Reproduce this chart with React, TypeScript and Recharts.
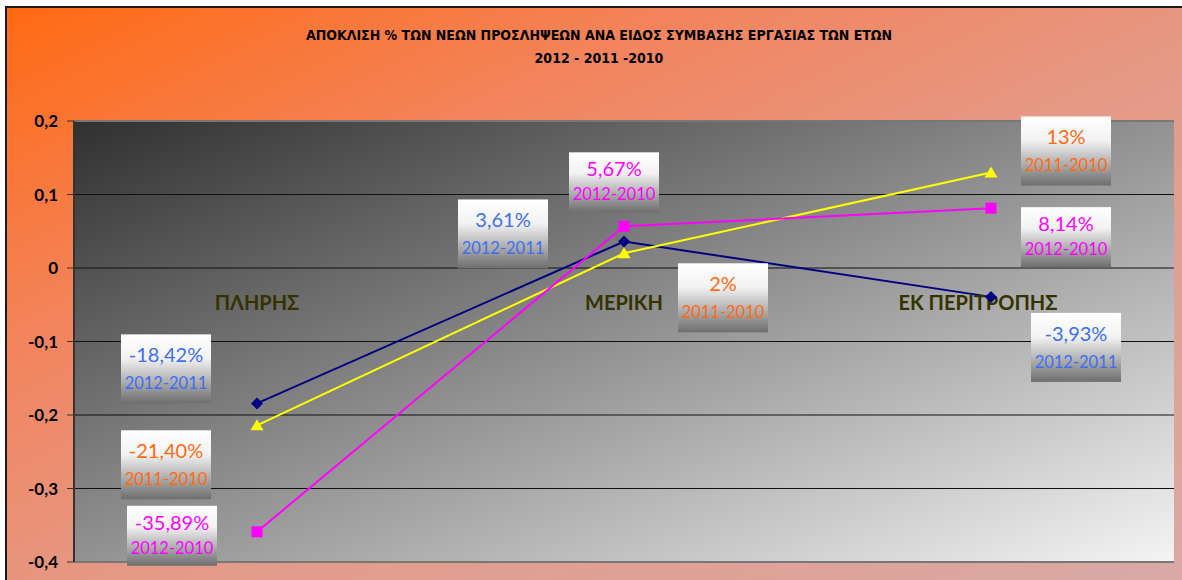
import React from 'react';
import { LineChart, Line, XAxis, YAxis, CartesianGrid, LabelList, ReferenceDot, ReferenceLine } from 'recharts';

const categories = ['ΠΛΗΡΗΣ', 'ΜΕΡΙΚΗ', 'ΕΚ ΠΕΡΙΤΡΟΠΗΣ'];
const series2012_2011 = [-0.1842, 0.0361, -0.0393];
const series2011_2010 = [-0.214, 0.02, 0.13];
const series2012_2010 = [-0.3589, 0.0567, 0.0814];
const labels2012_2011 = ['-18,42%', '3,61%', '-3,93%'];
const labels2011_2010 = ['-21,40%', '2%', '13%'];
const labels2012_2010 = ['-35,89%', '5,67%', '8,14%'];
const yTicks = [0.2, 0.1, 0, -0.1, -0.2, -0.3, -0.4];

const data = categories.map((name, i) => ({
  name,
  a: series2012_2011[i],
  b: series2011_2010[i],
  c: series2012_2010[i],
  aLabel: labels2012_2011[i],
  bLabel: labels2011_2010[i],
  cLabel: labels2012_2010[i],
}));

const FONT = 'Lato, "Open Sans", sans-serif';

// where each data-label box sits relative to its point (excel layout)
const boxOffsets: Record<string, number[][]> = {
  a: [[-136, -69], [-166, -42], [40, 16]],
  b: [[-136, 5], [54, 10], [30, -56]],
  c: [[-130, -26], [-55, -74], [30, -1]],
};
const boxHeights: Record<string, number> = { a: 69, b: 69, c: 60 };
const catDx = [0, 0, -13];

const makeLabel = (key: string, name: string, color: string) => (props: any) => {
  const px = props.viewBox?.x ?? props.x;
  const py = props.viewBox?.y ?? props.y;
  const [dx, dy] = boxOffsets[key][props.index];
  const h = boxHeights[key];
  const bx = px + dx;
  const by = py + dy;
  const tall = h > 65;
  return (
    <g>
      <rect x={bx} y={by} width={90} height={h} fill="url(#boxGrad)" />
      <text x={bx + 45} y={by + (tall ? 28 : 24)} textAnchor="middle" fill={color} fontSize={20} fontFamily={FONT}>
        {props.value}
      </text>
      <text x={bx + 45} y={by + (tall ? 55 : 48)} textAnchor="middle" fill={color} fontSize={16.5} fontFamily={FONT}>
        {name}
      </text>
    </g>
  );
};

const Diamond = (p: any) => (
  <polygon
    points={`${p.cx},${p.cy - 6} ${p.cx + 6},${p.cy} ${p.cx},${p.cy + 6} ${p.cx - 6},${p.cy}`}
    fill="#000080"
  />
);
const Triangle = (p: any) => (
  <polygon
    points={`${p.cx},${p.cy - 6} ${p.cx + 6.5},${p.cy + 5} ${p.cx - 6.5},${p.cy + 5}`}
    fill="#ffff00"
  />
);
const Square = (p: any) => <rect x={p.cx - 5.5} y={p.cy - 5.5} width={11} height={11} fill="#ff00ff" />;

const App: React.FC = () => {
  return (
    <div
      style={{
        position: 'absolute',
        left: 5,
        top: 6,
        width: 1190,
        height: 590,
        border: '2px solid #1a1a1a',
        boxSizing: 'border-box',
        background: 'linear-gradient(to bottom right, #ff6a13 0%, #f2855f 30%, #e49a88 55%, #d8aaa6 100%)',
        overflow: 'hidden',
      }}
    >
      <svg width={0} height={0} style={{ position: 'absolute' }}>
        <defs>
          <linearGradient id="plotGrad" x1="0" y1="0" x2="1" y2="1">
            <stop offset="0%" stopColor="#303030" />
            <stop offset="100%" stopColor="#f4f4f4" />
          </linearGradient>
          <linearGradient id="boxGrad" x1="0" y1="0" x2="0" y2="1">
            <stop offset="0%" stopColor="#ffffff" />
            <stop offset="35%" stopColor="#f2f2f2" />
            <stop offset="100%" stopColor="#6e6e6e" />
          </linearGradient>
        </defs>
      </svg>
      <div
        style={{
          position: 'absolute',
          left: 0,
          width: 1184,
          top: 16,
          textAlign: 'center',
          fontFamily: '"Liberation Sans Narrow", "DejaVu Sans Condensed", sans-serif',
          fontWeight: 'bold',
          fontSize: 14,
          lineHeight: '23px',
          color: '#000',
        }}
      >
        <div>ΑΠΟΚΛΙΣΗ % ΤΩΝ ΝΕΩΝ ΠΡΟΣΛΗΨΕΩΝ ΑΝΑ ΕΙΔΟΣ ΣΥΜΒΑΣΗΣ ΕΡΓΑΣΙΑΣ ΤΩΝ ΕΤΩΝ</div>
        <div>2012 - 2011 -2010</div>
      </div>
      <div style={{ position: 'absolute', left: -7, top: -8 }}>
        <LineChart width={1182} height={580} data={data} margin={{ top: 121, right: 8, bottom: 18, left: 8 }}>
          <CartesianGrid vertical={false} stroke="#111" fill="url(#plotGrad)" fillOpacity={1} />
          <XAxis dataKey="name" hide padding={{ left: 183, right: 183 }} />
          <YAxis
            domain={[-0.4, 0.2]}
            ticks={yTicks}
            width={66}
            tickSize={7}
            tickMargin={9}
            interval={0}
            tickFormatter={(v: number) => String(v).replace('.', ',')}
            tick={{ fill: '#000', fontSize: 17, fontWeight: 'bold', fontFamily: FONT }}
            tickLine={{ stroke: '#333' }}
            axisLine={{ stroke: '#333', strokeWidth: 2 }}
          />
          <YAxis yAxisId="right" orientation="right" width={0} tick={false} tickLine={false} axisLine={{ stroke: '#777', strokeWidth: 2 }} />
          <ReferenceLine y={0.2} stroke="#777" strokeWidth={2} />
          <ReferenceLine y={-0.4} stroke="#777" strokeWidth={2} />
          {categories.map((c, i) => (
            <ReferenceDot
              key={c}
              x={c}
              y={0}
              r={0}
              shape={(p: any) => (
                <text
                  x={p.cx + catDx[i]}
                  y={p.cy + 42}
                  textAnchor="middle"
                  fill="#333300"
                  fontSize={20}
                  fontWeight="bold"
                  fontFamily={FONT}
                >
                  {c}
                </text>
              )}
            />
          ))}
          <Line dataKey="a" stroke="#000080" strokeWidth={2} dot={<Diamond />} isAnimationActive={false}>
            <LabelList dataKey="aLabel" content={makeLabel('a', '2012-2011', '#3d6ef2')} />
          </Line>
          <Line dataKey="b" stroke="#ffff00" strokeWidth={2} dot={<Triangle />} isAnimationActive={false}>
            <LabelList dataKey="bLabel" content={makeLabel('b', '2011-2010', '#ff6a10')} />
          </Line>
          <Line dataKey="c" stroke="#ff00ff" strokeWidth={2} dot={<Square />} isAnimationActive={false}>
            <LabelList dataKey="cLabel" content={makeLabel('c', '2012-2010', '#ff00ff')} />
          </Line>
        </LineChart>
      </div>
    </div>
  );
};

export default App;
